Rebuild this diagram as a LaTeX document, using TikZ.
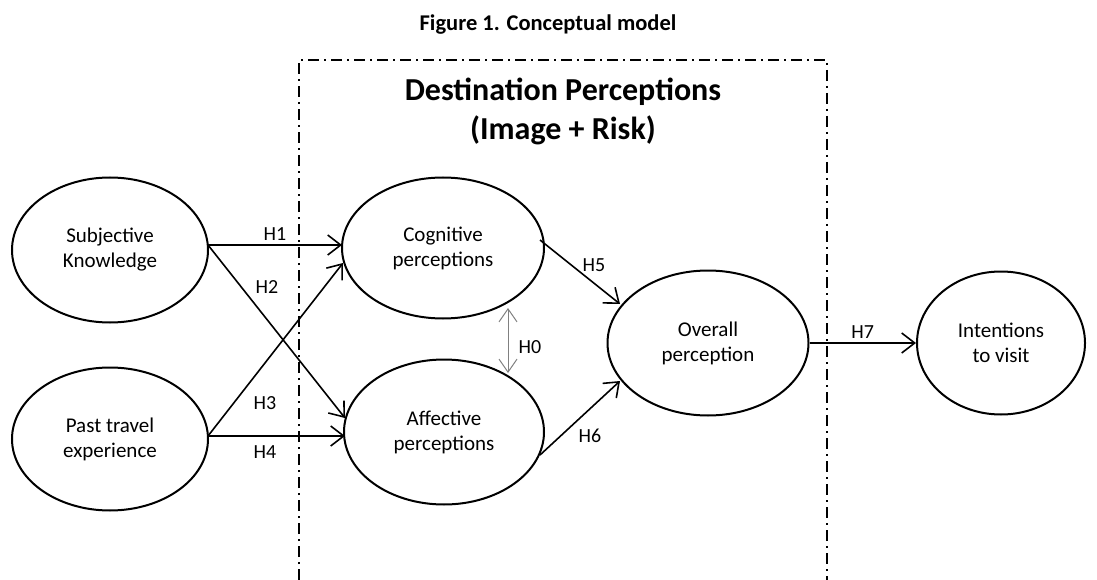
\documentclass[tikz,border=0pt]{standalone}
\usepackage{fontspec}
\setmainfont{Carlito}
\usetikzlibrary{arrows.meta,shapes.geometric}
\begin{document}
\begin{tikzpicture}[x=1pt,y=-1pt,
  construct/.style={draw,ellipse,line width=2pt,minimum width=#1,inner sep=0pt,align=center,font=\fontsize{21}{25}\selectfont},
  construct/.default=196pt,
  path/.style={line width=1.6pt,-{Straight Barb[length=13pt,width=20pt,line width=1.6pt]}},
  hlab/.style={font=\fontsize{20}{24}\selectfont},
  heading/.style={anchor=base,font=\bfseries\fontsize{32}{39}\selectfont},
  frame/.style={line width=1.5pt,dash pattern=on 11pt off 5pt on 2pt off 5pt}]
\useasboundingbox (0,0) rectangle (1097,580);
\node[anchor=base,font=\bfseries\fontsize{22.5}{27}\selectfont] (title) at (548,31) {Figure 1. Conceptual model};
\draw[frame] (299,580) -- (299,60) -- (827,60) -- (827,580);
\node[heading] (dp1) at (563,101) {Destination Perceptions};
\node[heading] (dp2) at (563,140) {(Image + Risk)};
\node[construct,minimum height=145pt] (sk) at (110,250) {Subjective\\Knowledge};
\node[construct,minimum height=143pt] (pt) at (110,439) {Past travel\\experience};
\node[construct=202pt,minimum height=141pt] (cog) at (443,248) {Cognitive\\perceptions};
\node[construct=200pt,minimum height=145pt] (aff) at (444,432) {Affective\\perceptions};
\node[construct=201pt,minimum height=145pt] (ov) at (708,343) {Overall\\perception};
\node[construct=168pt,minimum height=143pt] (int) at (1001,343) {Intentions\\to visit};
\coordinate (skout) at (208,245);
\coordinate (ptout) at (208,436);
\coordinate (cogin1) at (342,245);
\coordinate (cogin2) at (343,263);
\coordinate (affin1) at (345,418);
\coordinate (affin2) at (345,436);
\draw[path] (skout) -- (cogin1) node[hlab,midway,above] {H1};
\draw[path] (skout) -- (affin1);
\node[hlab] (h2) at (267,287) {H2};
\draw[path] (ptout) -- (cogin2);
\node[hlab] (h3) at (265,403) {H3};
\draw[path] (ptout) -- (affin2);
\node[hlab] (h4) at (265,452) {H4};
\draw[path] (540,240) -- (620,304);
\node[hlab] (h5) at (594,265) {H5};
\draw[path] (540,455) -- (620,381);
\node[hlab] (h6) at (590,436) {H6};
\draw[gray,line width=1pt,{Straight Barb[length=13pt,width=18pt]}-{Straight Barb[length=13pt,width=18pt]}] (508,308) -- (508,373);
\node[hlab] (h0) at (530,347) {H0};
\draw[path] (ov.east) -- (int.west) node[hlab,midway,above] {H7};
\end{tikzpicture}
\end{document}
